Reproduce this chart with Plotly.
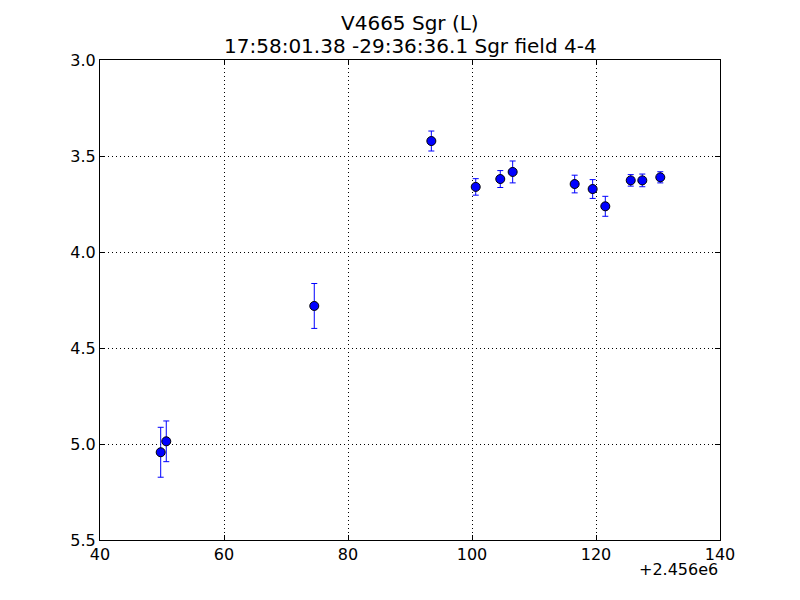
import plotly.graph_objects as go

# Data (HJD, magnitude, error)
hjd = [2456049.79, 2456050.69, 2456074.56, 2456093.44, 2456100.60, 2456104.56,
       2456106.56, 2456116.56, 2456119.46, 2456121.50, 2456125.60, 2456127.47, 2456130.37]
mag = [5.043, 4.986, 4.281, 3.422, 3.661, 3.620, 3.583, 3.646, 3.672, 3.762, 3.627, 3.627, 3.611]
err = [0.130, 0.106, 0.117, 0.052, 0.043, 0.044, 0.057, 0.046, 0.049, 0.052, 0.030, 0.033, 0.029]

x_offset = 2456000
x_ticks = [40, 60, 80, 100, 120, 140]
y_ticks = [3.0, 3.5, 4.0, 4.5, 5.0, 5.5]
title_lines = ["V4665 Sgr (L)", "17:58:01.38 -29:36:36.1 Sgr field 4-4"]
offset_label = "+2.456e6"

font = dict(family="DejaVu Sans", size=16, color="black")

fig = go.Figure()
fig.add_trace(go.Scatter(
    x=hjd, y=mag, mode="markers",
    error_y=dict(type="data", array=err, visible=True, color="blue", thickness=1, width=3),
    marker=dict(color="blue", size=9, line=dict(color="black", width=1)),
    showlegend=False,
))

axis_common = dict(
    showline=True, linecolor="black", linewidth=1, mirror="ticks",
    ticks="inside", ticklen=5, tickcolor="black",
    showgrid=True, gridcolor="black", gridwidth=1, griddash="1px,3px",
    zeroline=False, tickfont=font,
)

# page has an 8px body margin; figure pixel = screen pixel - 8
L, T = 92, 52
W, H = 792, 592
plot_h = 480

fig.update_layout(
    width=W, height=H,
    margin=dict(l=L, r=W - L - 620, t=T, b=H - T - plot_h),
    paper_bgcolor="white", plot_bgcolor="white",
    font=font,
    xaxis=dict(range=[x_offset + x_ticks[0], x_offset + x_ticks[-1]],
               tickvals=[x_offset + t for t in x_ticks],
               ticktext=[str(t) for t in x_ticks], **axis_common),
    yaxis=dict(range=[y_ticks[-1], y_ticks[0]], tickvals=y_ticks,
               ticktext=[f"{t:.1f}" for t in y_ticks], **axis_common),
)

def py(screen_y):
    # convert screen y to paper fraction
    return 1 - (screen_y - 8 - T) / plot_h

fig.add_annotation(text=title_lines[0], x=0.5, xref="paper", y=py(23),
                   yref="paper", yanchor="middle", showarrow=False,
                   font=dict(family="DejaVu Sans", size=20))
fig.add_annotation(text=title_lines[1], x=0.5, xref="paper", y=py(46),
                   yref="paper", yanchor="middle", showarrow=False,
                   font=dict(family="DejaVu Sans", size=20))
fig.add_annotation(text=offset_label, x=1.0, xref="paper", xanchor="right",
                   y=py(569), yref="paper", yanchor="middle",
                   showarrow=False, font=dict(family="DejaVu Sans", size=16))

fig.write_html("out.html")
